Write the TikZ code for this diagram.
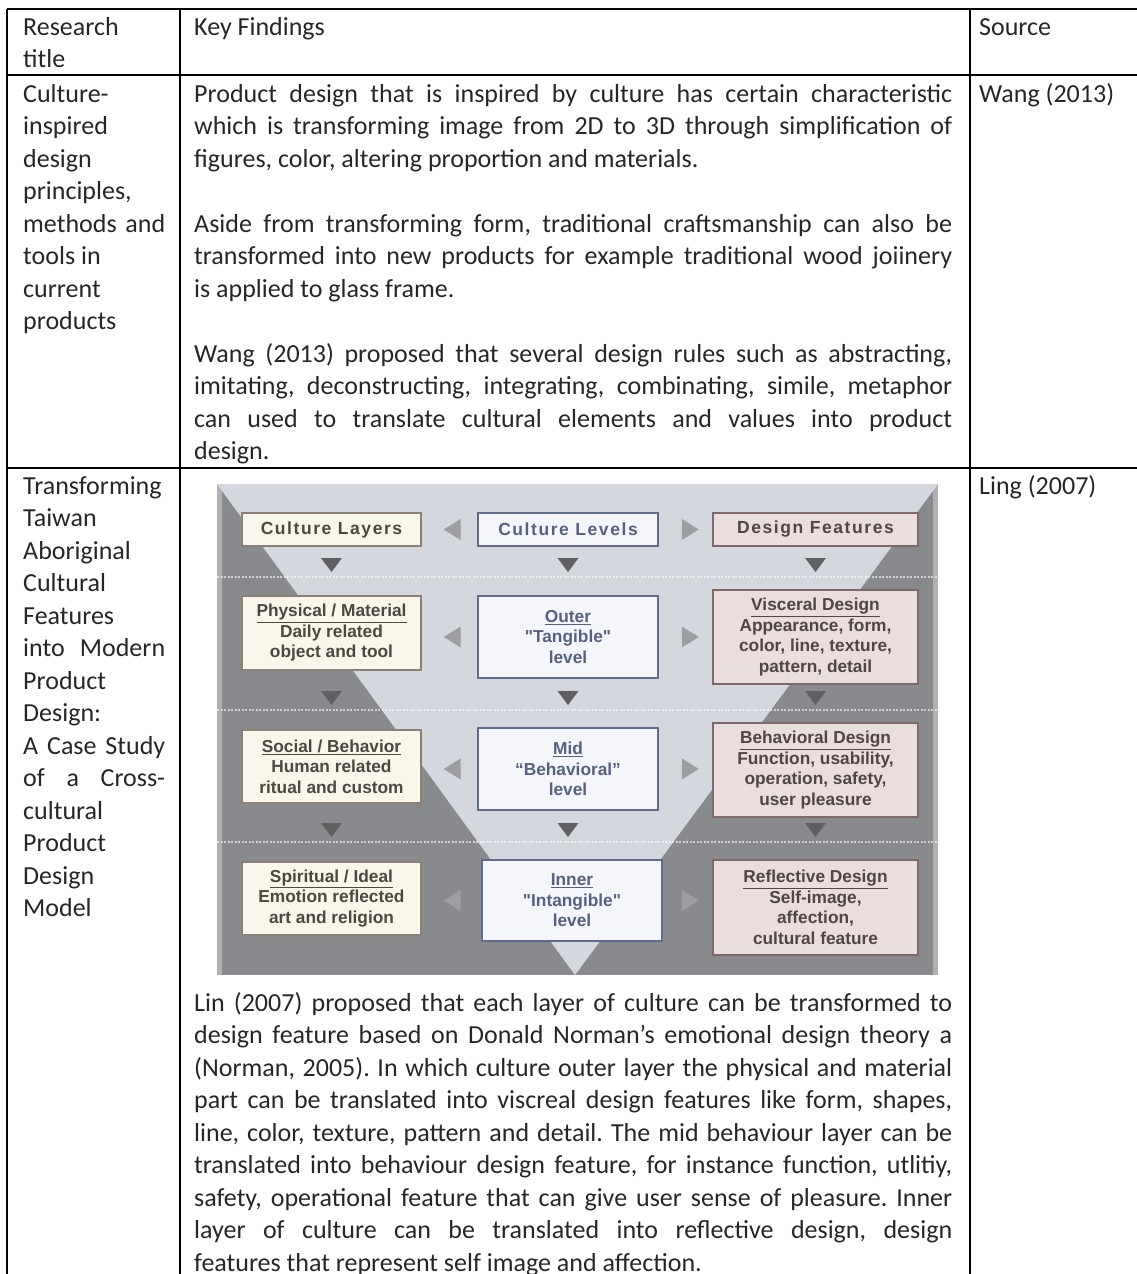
\documentclass[tikz,border=0pt]{standalone}
\usepackage{fontspec}
\setmainfont{Carlito}
\newfontfamily\diagfont{Liberation Sans}
\newfontfamily\diagheadfont[LetterSpace=9]{Liberation Sans}
\usetikzlibrary{calc}

\definecolor{panellight}{HTML}{D4D7DE}
\definecolor{paneldark}{HTML}{898A8D}
\definecolor{paneledge}{HTML}{AEB0B3}
\definecolor{tipgray}{HTML}{9C9EA1}
\definecolor{tipdark}{HTML}{5F6062}
\definecolor{layerfill}{HTML}{F8F7EA}
\definecolor{layerline}{HTML}{8C8076}
\definecolor{layertext}{HTML}{4E4741}
\definecolor{levelfill}{HTML}{F5F6F9}
\definecolor{levelline}{HTML}{5E6B8B}
\definecolor{leveltext}{HTML}{56617F}
\definecolor{featfill}{HTML}{E9DDDD}
\definecolor{featline}{HTML}{806868}
\definecolor{feattext}{HTML}{4F4545}
\definecolor{celltext}{HTML}{262626}

\newcommand\cellfont{\fontsize{26}{32.5}\selectfont}
\newcommand\cellpar[2]{\parbox[t]{#1}{\tolerance=10000\hyphenpenalty=10000\cellfont #2}}

\tikzset{%
  rule/.style={line width=1.4pt},
  cell/.style={anchor=base west, inner sep=0pt, text=celltext},
  box/.style={
    draw,
    line width=1.3pt,
    align=center,
    inner sep=0pt,
    font=\diagfont\bfseries\fontsize{17.3}{20.5}\selectfont
  },
  layer/.style={box, fill=layerfill, draw=layerline, text=layertext, minimum width=179pt},
  level/.style={box, fill=levelfill, draw=levelline, text=leveltext, minimum width=180pt},
  feature/.style={box, fill=featfill, draw=featline, text=feattext, minimum width=205pt},
  head/.style={font=\diagheadfont\bfseries\fontsize{17.5}{20.5}\selectfont, minimum height=33pt},
  dotrule/.style={white, opacity=0.6, line width=2pt, dash pattern=on 2pt off 1.5pt},
  tipleft/.pic={\fill[tipgray] (-8.5,0) -- (8.5,-10.5) -- (8.5,10.5) -- cycle;},
  tipright/.pic={\fill[tipgray] (8.5,0) -- (-8.5,-10.5) -- (-8.5,10.5) -- cycle;},
  tipdown/.pic={\fill[tipdark] (0,7) -- (-10.5,-7) -- (10.5,-7) -- cycle;},
}

\begin{document}
\frenchspacing
\begin{tikzpicture}[x=1pt, y=-1pt]
\useasboundingbox (0,0) rectangle (1137,1274);

% table rules
\draw[rule] (7,9) -- (1137,9);
\draw[rule] (7,75) -- (1137,75);
\draw[rule] (7,468) -- (1137,468);
\draw[rule] (7,9) -- (7,1274);
\draw[rule] (180,9) -- (180,1274);
\draw[rule] (970,9) -- (970,1274);

% header
\node[cell] (h1) at (23,35) {\cellpar{142pt}{Research\\title}};
\node[cell] (h2) at (194,35) {\cellfont Key Findings};
\node[cell] (h3) at (979,35) {\cellfont Source};

% first row
\node[cell] (t1) at (23,102) {\cellpar{142pt}{Culture-\\inspired\\design\\principles,\\methods and\linebreak tools in\\current\\products}};
\node[cell] (k1) at (194,102) {\cellpar{758pt}{Product design that is inspired by culture has certain characteristic\linebreak
which is transforming image from 2D to 3D through simplification of\linebreak
figures, color, altering proportion and materials.\par\vspace{32.5pt}
Aside from transforming form, traditional craftsmanship can also be\linebreak
transformed into new products for example traditional wood joiinery\linebreak
is applied to glass frame.\par\vspace{32.5pt}
Wang (2013) proposed that several design rules such as abstracting,\linebreak
imitating, deconstructing, integrating, combinating, simile, metaphor\linebreak
can used to translate cultural elements and values into product\linebreak
design.}};
\node[cell] (s1) at (979,102) {\cellfont Wang (2013)};

% second row
\node[cell] (t2) at (23,494) {\cellpar{142pt}{Transforming\\Taiwan\\Aboriginal\\Cultural\\Features\\into Modern\linebreak Product\\Design:\\A Case Study\linebreak of a Cross-\linebreak cultural\\Product\\Design\\Model}};
\node[cell] (s2) at (979,494) {\cellfont Ling (2007)};

% culture model panel
\coordinate (pnw) at (217,484);
\coordinate (pse) at (938,975);
\coordinate (apex) at (575,975);
\fill[paneldark] (pnw) rectangle (pse);
\fill[paneledge] (pnw) rectangle (222,975);
\fill[paneledge] (933,484) rectangle (pse);
\fill[panellight] (pnw) -- (pnw -| pse) -- (apex) -- cycle;

\coordinate (dot1) at (217,577);
\coordinate (dot2) at (217,710);
\coordinate (dot3) at (217,842);
\foreach \d in {1,2,3}
  \draw[dotrule] (dot\d) -- (dot\d -| pse);

\node[layer, head] (cl0) at (331.5,529.5) {Culture Layers};
\node[level, head] (cv0) at (568,529.5) {Culture Levels};
\node[feature, head] (cd0) at (815.5,529.5) {Design Features};

\node[layer, minimum height=74pt] (cl1) at (331.5,633) {\underline{Physical / Material}\\Daily related\\object and tool};
\node[level, minimum height=82pt] (cv1) at (568,637) {\underline{Outer}\\"Tangible"\\level};
\node[feature, minimum height=94pt] (cd1) at (815.5,637) {\underline{Visceral Design}\\Appearance, form,\\color, line, texture,\\pattern, detail};

\node[layer, minimum height=73pt] (cl2) at (331.5,766.5) {\underline{Social / Behavior}\\Human related\\ritual and custom};
\node[level, minimum height=82pt] (cv2) at (568,769) {\underline{Mid}\\“Behavioral”\\level};
\node[feature, minimum height=94pt] (cd2) at (815.5,770) {\underline{Behavioral Design}\\Function, usability,\\operation, safety,\\user pleasure};

\node[layer, minimum height=73pt] (cl3) at (331.5,898.5) {\underline{Spiritual / Ideal}\\Emotion reflected\\art and religion};
\node[level, minimum height=81pt] (cv3) at (572,900.5) {\underline{Inner}\\"Intangible"\\level};
\node[feature, minimum height=95pt] (cd3) at (815.5,907.5) {\underline{Reflective Design}\\Self-image,\\affection,\\cultural feature};

\foreach \r in {0,...,3} {
  \pic at ($(cl\r.east |- cv\r.center)+(30.5,0)$) {tipleft};
  \pic at ($(cd\r.west |- cv\r.center)+(-22,0)$) {tipright};
}
\foreach \r/\d in {0/1,1/2,2/3}
  \foreach \c in {cl,cv,cd}
    \pic[yshift=12pt] at (\c\r |- dot\d) {tipdown};

\node[cell] (k2) at (194,1011) {\cellpar{758pt}{Lin (2007) proposed that each layer of culture can be transformed to\linebreak
design feature based on Donald Norman’s emotional design theory a\linebreak
(Norman, 2005). In which culture outer layer the physical and material\linebreak
part can be translated into viscreal design features like form, shapes,\linebreak
line, color, texture, pattern and detail. The mid behaviour layer can be\linebreak
translated into behaviour design feature, for instance function, utlitiy,\linebreak
safety, operational feature that can give user sense of pleasure. Inner\linebreak
layer of culture can be translated into reflective design, design\linebreak
features that represent self image and affection.}};
\end{tikzpicture}
\end{document}
